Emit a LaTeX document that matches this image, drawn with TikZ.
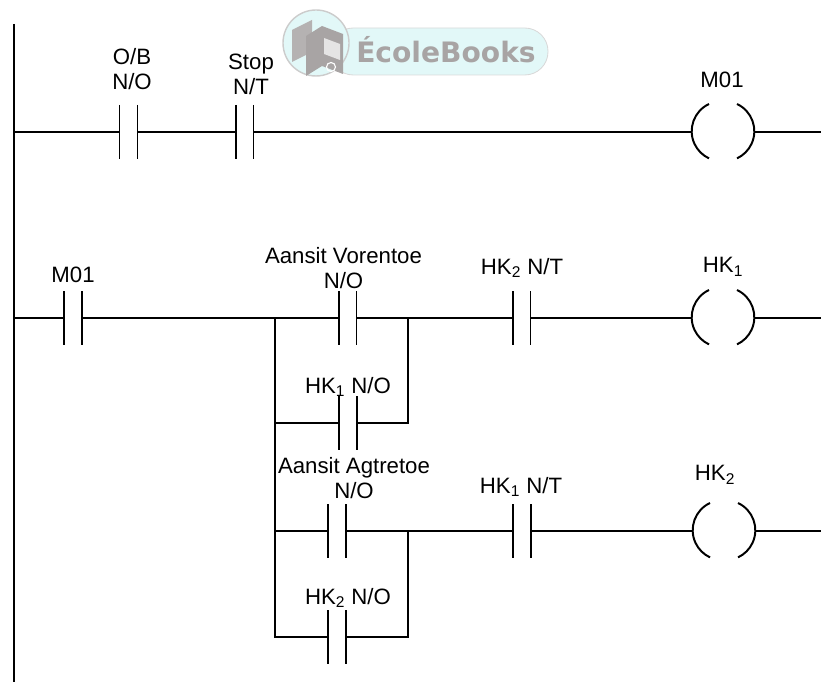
\documentclass[tikz,border=0pt]{standalone}
\usepackage{fontspec}
\setmainfont{Liberation Sans}
\newfontfamily\logofont{DejaVu Sans}
\definecolor{logocyan}{HTML}{E2F8F8}
\definecolor{logogray}{HTML}{A8A4A4}
\tikzset{
  kontak/.style={rectangle, inner sep=0pt, minimum width=0.4cm, minimum height=1.3cm},
  spoel/.style={rectangle, inner sep=0pt, minimum width=1.5cm, minimum height=1.35cm},
  etiket/.style={align=center, inner sep=0pt, font=\fontsize{15.8}{17.8}\selectfont},
}
\begin{document}
\begin{tikzpicture}[x=0.025cm, y=0.025cm, line width=1.4pt]
        \useasboundingbox (0,0) rectangle (821,682);
        %Watermerk
        \draw[black!15, fill=logocyan, line width=0.6pt, rounded corners=0.58cm] (330,607) rectangle (548,654);
        \draw[black!20, fill=logocyan, line width=1pt] (316,639) circle[radius=33];
        \fill[logogray!85] (292,620) -- (292,652) -- (312,662) -- (312,630) -- cycle;
        \fill[logogray] (306,606) -- (306,646) -- (322,656) -- (343,648) -- (343,608) -- (322,616) -- cycle;
        \fill[white!70!logogray] (324,628) -- (340,622) -- (340,638) -- (324,644) -- cycle;
        \draw[white, line width=0.8pt] (331,615) circle[radius=4.5];
        \node[font=\logofont\bfseries\fontsize{20}{20}\selectfont, text=logogray] (logo) at (446,632) {ÉcoleBooks};
        
        %Linker rail
        \coordinate (rt) at (14,658);
        \coordinate (rb) at (14,0);
        \draw (rt) -- (rb);
        
        %Sport 1
        \node[kontak] (ob) at (128.5,550) {};
        \node[kontak] (stop) at (244.5,550) {};
        \node[spoel] (m01) at (723,550) {};
        \coordinate (e1) at (821,550);
        \draw (ob.west -| rt) -- (ob.west) (ob.east) -- (stop.west) (stop.east) -- (m01.west) (m01.east) -- (e1);
        
        \node[etiket] (tob) at (132,613) {O/B\\N/O};
        \node[etiket] (tstop) at (251,607.5) {Stop\\N/T};
        \node[etiket] (tm01a) at (722,602) {M01};
        
        %Sport 2
        \node[kontak] (km01) at (73,364) {};
        \node[kontak] (vor) at (347.5,364) {};
        \node[kontak] (hkano) at (348,259) {};
        \node[kontak] (hkbnt) at (521.5,364) {};
        \node[spoel] (hka) at (723,364) {};
        \coordinate (j1) at (275,364);
        \coordinate (j2) at (408,364);
        \coordinate (e2) at (821,364);
        \draw (km01.west -| rt) -- (km01.west) (km01.east) -- (vor.west) (vor.east) -- (hkbnt.west) (hkbnt.east) -- (hka.west) (hka.east) -- (e2);
        \draw (hkano.west -| j1) -- (hkano.west) (hkano.east) -| (j2);
        
        \node[etiket] (tm01b) at (73,407) {M01};
        \node[etiket] (tvor) at (343.5,413.5) {Aansit Vorentoe\\N/O};
        \node[etiket] (thkano) at (348,295) {HK\textsubscript{1} N/O};
        \node[etiket] (thkbnt) at (522,414) {HK\textsubscript{2} N/T};
        \node[etiket] (thka) at (723,415) {HK\textsubscript{1}};
        
        %Sport 3
        \node[kontak] (agt) at (337,151) {};
        \node[kontak] (hkbno) at (337,45) {};
        \node[kontak] (hkant) at (522,151) {};
        \node[spoel] (hkb) at (724,151) {};
        \coordinate (j3) at (408,151);
        \coordinate (e3) at (821,151);
        \draw (j1) |- (hkbno.west) (hkbno.east) -| (j3);
        \draw (agt.west -| j1) -- (agt.west) (agt.east) -- (hkant.west) (hkant.east) -- (hkb.west) (hkb.east) -- (e3);
        
        \node[etiket] (tagt) at (354,203.5) {Aansit Agtretoe\\N/O};
        \node[etiket] (thkbno) at (348,84) {HK\textsubscript{2} N/O};
        \node[etiket] (thkant) at (521,195) {HK\textsubscript{1} N/T};
        \node[etiket] (thkb) at (715,207) {HK\textsubscript{2}};
        
        %Kontakte en spoele
        \foreach \k in {ob,stop,km01,vor,hkano,hkbnt,agt,hkbno,hkant}
            \draw (\k.north west) -- (\k.south west) (\k.north east) -- (\k.south east);
        \foreach \s in {m01,hka,hkb}
            \draw ([xshift=0.425cm]\s.north west) arc[start angle=115, end angle=245, radius=0.75cm]
                  ([xshift=-0.425cm]\s.north east) arc[start angle=65, end angle=-65, radius=0.75cm];
        
\end{tikzpicture}
\end{document}
